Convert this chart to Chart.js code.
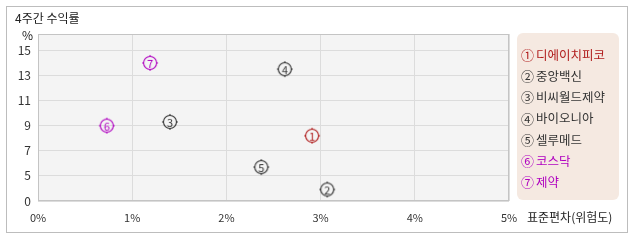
<!DOCTYPE html>
<html>
<head>
<meta charset="utf-8">
<script src="https://cdn.jsdelivr.net/npm/chart.js@4"></script>
<style>
  html, body { margin: 0; padding: 0; background: #fff; }
  #wrap { width: 638px; height: 242px; position: relative; }
</style>
</head>
<body>
<div id="wrap"><canvas id="myChart" width="638" height="242"></canvas></div>
<script>
// 종목 (legend order)
var names = ["디에이치피코", "중앙백신", "비씨월드제약", "바이오니아", "셀루메드", "코스닥", "제약"];
var marks = ["①", "②", "③", "④", "⑤", "⑥", "⑦"];
// 표준편차(위험도), %
var risk = [2.91, 3.07, 1.40, 2.62, 2.37, 0.73, 1.19];
// 4주간 수익률, %
var returns = [8.2, 2.3, 9.3, 13.5, 5.7, 9.0, 14.0];
var colors = ["#b01c1c", "#333333", "#333333", "#333333", "#333333", "#b000c0", "#b000c0"];

var yTicks = [0, 5, 7, 9, 11, 13, 15];
var xTicks = [0, 1, 2, 3, 4, 5];

var FONT = "'Noto Sans CJK KR', 'Noto Sans', sans-serif";

// the y axis is compressed below 5: 0..5 takes one grid step
function toAxis(v) {
  return v >= 5 ? v : 3 + v * 2 / 5;
}

function makeMarker(num, color) {
  var c = document.createElement("canvas");
  c.width = 20; c.height = 20;
  var g = c.getContext("2d");
  g.strokeStyle = color;
  g.lineWidth = 1.1;
  g.beginPath();
  g.arc(10, 10, 6.5, 0, Math.PI * 2);
  g.stroke();
  g.beginPath();
  g.moveTo(10, 2); g.lineTo(10, 3.8);
  g.moveTo(10, 16.2); g.lineTo(10, 18);
  g.moveTo(2, 10); g.lineTo(3.8, 10);
  g.moveTo(16.2, 10); g.lineTo(18, 10);
  g.stroke();
  g.fillStyle = color;
  g.font = "11px " + FONT;
  g.textAlign = "center";
  g.textBaseline = "middle";
  g.fillText(String(num), 10, 10.5);
  return c;
}

var points = risk.map(function (x, i) {
  return { x: x, y: toAxis(returns[i]) };
});
var markerImgs = colors.map(function (c, i) { return makeMarker(i + 1, c); });

var decor = {
  id: "decor",
  beforeDraw: function (chart) {
    var ctx = chart.ctx, a = chart.chartArea;
    ctx.save();
    ctx.fillStyle = "#fff";
    ctx.fillRect(0, 0, chart.width, chart.height);
    ctx.strokeStyle = "#bdbdbd";
    ctx.lineWidth = 1;
    ctx.strokeRect(6.5, 6.5, 621, 226);
    ctx.fillStyle = "#f4f4f4";
    ctx.fillRect(a.left, a.top, a.right - a.left, a.bottom - a.top);
    ctx.restore();
  },
  afterDraw: function (chart) {
    var ctx = chart.ctx, a = chart.chartArea;
    ctx.save();
    ctx.strokeStyle = "#c4c4c4";
    ctx.lineWidth = 1;
    ctx.strokeRect(Math.round(a.left) + 0.5, Math.round(a.top) + 0.5,
      Math.round(a.right - a.left) - 1, Math.round(a.bottom - a.top) - 1);

    ctx.fillStyle = "#222";
    ctx.font = "12px " + FONT;
    ctx.textBaseline = "middle";
    ctx.textAlign = "left";
    ctx.fillText("4주간 수익률", 15, 18);
    ctx.fillText("%", 22, 35);
    ctx.fillText("표준편차(위험도)", 527, 217);

    // legend box
    ctx.fillStyle = "#f5e9e1";
    ctx.beginPath();
    ctx.roundRect(517, 33, 102, 167, 6);
    ctx.fill();
    names.forEach(function (n, i) {
      var y = 55 + i * 21.2;
      ctx.fillStyle = colors[i];
      ctx.font = "13px " + FONT;
      ctx.fillText(marks[i], 521, y);
      ctx.font = "12.5px " + FONT;
      ctx.fillText(n, 536, y);
    });
    ctx.restore();
  }
};

var ctx = document.getElementById("myChart").getContext("2d");
var myChart = new Chart(ctx, {
  type: "scatter",
  data: {
    datasets: [{
      data: points,
      pointStyle: markerImgs,
      pointRadius: 8,
      pointHoverRadius: 8
    }]
  },
  options: {
    responsive: false,
    animation: false,
    events: [],
    layout: { padding: { left: 0, top: 34, right: 129, bottom: 0 } },
    plugins: { legend: { display: false }, tooltip: { enabled: false } },
    scales: {
      x: {
        type: "linear",
        min: 0,
        max: 5,
        afterFit: function (s) { s.height = 41; },
        afterBuildTicks: function (s) {
          s.ticks = xTicks.map(function (v) { return { value: v }; });
        },
        grid: { color: "#dcdcdc", drawTicks: false },
        border: { display: false },
        ticks: {
          padding: 10,
          color: "#333",
          font: { family: FONT, size: 11 },
          maxRotation: 0,
          callback: function (v) { return v + "%"; }
        }
      },
      y: {
        type: "linear",
        min: 3,
        max: 16.3,
        afterFit: function (s) { s.width = 38; },
        afterBuildTicks: function (s) {
          s.ticks = yTicks.map(function (v) { return { value: toAxis(v) }; });
        },
        grid: { color: "#dcdcdc", drawTicks: false },
        border: { display: false },
        ticks: {
          padding: 7,
          color: "#333",
          font: { family: FONT, size: 12 },
          callback: function (v, i) { return String(yTicks[i]); }
        }
      }
    }
  },
  plugins: [decor]
});
</script>
</body>
</html>
